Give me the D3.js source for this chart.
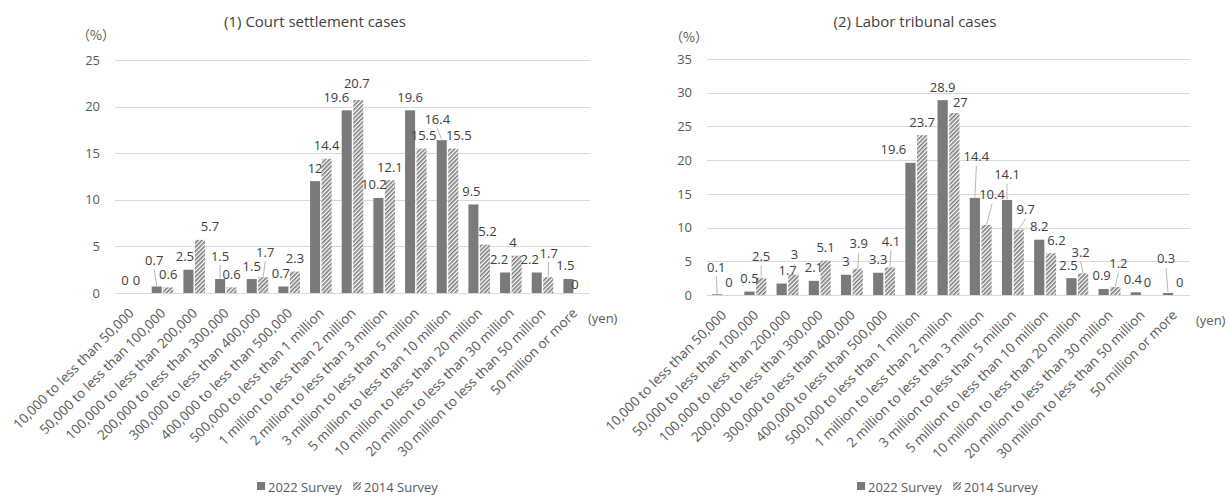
<!DOCTYPE html>
<html>
<head>
<meta charset="utf-8">
<script src="https://cdn.jsdelivr.net/npm/d3@7"></script>
<style>
  body { margin: 0; background: #fff; }
  svg { display: block; }
  text { font-family: 'Open Sans', 'Noto Sans', sans-serif; }
</style>
</head>
<body>
<svg id="chart" width="1229" height="500"></svg>
<script>
// ---- data ----
const categories = [
  "10,000 to less than 50,000",
  "50,000 to less than 100,000",
  "100,000 to less than 200,000",
  "200,000 to less than 300,000",
  "300,000 to less than 400,000",
  "400,000 to less than 500,000",
  "500,000 to less than 1 million",
  "1 million to less than 2 million",
  "2 million to less than 3 million",
  "3 million to less than 5 million",
  "5 million to less than 10 million",
  "10 million to less than 20 million",
  "20 million to less than 30 million",
  "30 million to less than 50 million",
  "50 million or more"
];
const seriesNames = ["2022 Survey", "2014 Survey"];

const court2022 = [0, 0.7, 2.5, 1.5, 1.5, 0.7, 12, 19.6, 10.2, 19.6, 16.4, 9.5, 2.2, 2.2, 1.5];
const court2014 = [0, 0.6, 5.7, 0.6, 1.7, 2.3, 14.4, 20.7, 12.1, 15.5, 15.5, 5.2, 4, 1.7, 0];
const courtTicks = [0, 5, 10, 15, 20, 25];

const labor2022 = [0.1, 0.5, 1.7, 2.1, 3, 3.3, 19.6, 28.9, 14.4, 14.1, 8.2, 2.5, 0.9, 0.4, 0.3];
const labor2014 = [0, 2.5, 3, 5.1, 3.9, 4.1, 23.7, 27, 10.4, 9.7, 6.2, 3.2, 1.2, 0, 0];
const laborTicks = [0, 5, 10, 15, 20, 25, 30, 35];

// ---- layout ----
// hand-placed value labels: [dx, dy] relative to the default spot above the bar
const courtLabelShift = [
  {1: [-2.5, -13], 2: [-3.5, 0], 3: [0, -10], 5: [-2.5, 0], 7: [-10.5, 0], 8: [-4.5, 0],
   10: [-4.5, -8], 11: [-2, 0], 12: [-6, 0], 13: [-7, 0], 14: [-3, -1]},
  {2: [10, 0], 4: [2, -12], 7: [-1.5, -4], 9: [2, 0], 10: [5.5, 0], 11: [2.5, 0],
   12: [-3.5, 0], 13: [0.5, -11], 14: [-5, 4]}
];
const laborLabelShift = [
  {0: [-1, -14], 2: [6, 0], 6: [-17, 0], 8: [1.5, -28], 9: [0, -12], 11: [-3, 0],
   12: [-2, 0], 13: [-3, 0], 14: [-2, -21]},
  {1: [0, -9], 2: [1, -7], 4: [1, -12], 5: [1, -13], 7: [6, 3], 8: [5.5, -17],
   9: [7, -7], 10: [5.5, 0], 11: [-2.5, -8], 12: [3, -10.5]}
];

const panels = [
  {title: "(1) Court settlement cases", titleX: 315, left: 115, right: 590, zero: 293, top: 60,
   ticks: courtTicks, s2022: court2022, s2014: court2014, shift: courtLabelShift,
   pctX: 77, pctY: 39.5, yenX: 588, legendX: 257},
  {title: "(2) Labor tribunal cases", titleX: 915, left: 707, right: 1190, zero: 295, top: 59,
   ticks: laborTicks, s2022: labor2022, s2014: labor2014, shift: laborLabelShift,
   pctX: 670, pctY: 41.5, yenX: 1196, legendX: 857}
];

const BAR_DARK = "#7a7a7a";
const GRID = "#d9d9d9";
const TEXT = "#404040";
const AXIS_TEXT = "#595959";

const svg = d3.select("#chart");

// diagonal hatch for the 2014 series
const defs = svg.append("defs");
const pat = defs.append("pattern")
  .attr("id", "hatch")
  .attr("patternUnits", "userSpaceOnUse")
  .attr("width", 3).attr("height", 3)
  .attr("patternTransform", "rotate(45)");
pat.append("rect").attr("width", 3).attr("height", 3).attr("fill", "#ffffff");
pat.append("rect").attr("width", 1.6).attr("height", 3).attr("fill", "#7a7a7a");

const fills = [BAR_DARK, "url(#hatch)"];

panels.forEach(p => {
  const g = svg.append("g");
  const maxTick = p.ticks[p.ticks.length - 1];

  const y = d3.scaleLinear().domain([0, maxTick]).range([p.zero, p.top]);
  const x0 = d3.scaleBand().domain(categories).range([p.left, p.right])
    .paddingInner(0.32).paddingOuter(0.16);
  const x1 = d3.scaleBand().domain(seriesNames).range([0, x0.bandwidth()]).paddingInner(0.13);

  // title
  g.append("text").attr("x", p.titleX).attr("y", 26.5)
    .attr("text-anchor", "middle").attr("font-size", 15).attr("fill", TEXT)
    .text(p.title);

  // unit label
  g.append("text").attr("x", p.pctX).attr("y", p.pctY)
    .attr("font-size", 13).attr("fill", AXIS_TEXT)
    .style("font-family", "'Noto Sans CJK JP', sans-serif")
    .text("（%）");

  // gridlines + value axis
  const yAxis = d3.axisLeft(y).tickValues(p.ticks).tickSize(-(p.right - p.left)).tickPadding(15)
    .tickFormat(d3.format("d"));
  const ag = g.append("g").attr("transform", `translate(${p.left},0)`).call(yAxis);
  ag.select(".domain").remove();
  ag.selectAll(".tick line").attr("stroke", GRID).attr("stroke-width", 1)
    .attr("shape-rendering", "crispEdges");
  ag.selectAll(".tick text").attr("font-size", 13).attr("fill", AXIS_TEXT)
    .style("font-family", "'Open Sans', sans-serif");

  // bars
  const series = [p.s2022, p.s2014];
  series.forEach((vals, si) => {
    g.append("g").selectAll("rect").data(vals).join("rect")
      .attr("x", (d, i) => x0(categories[i]) + x1(seriesNames[si]))
      .attr("y", d => y(d))
      .attr("width", x1.bandwidth())
      .attr("height", d => y(0) - y(d))
      .attr("fill", fills[si]);
  });

  // value labels with leader lines where a label was lifted away from its bar
  series.forEach((vals, si) => {
    const lg = g.append("g");
    vals.forEach((v, i) => {
      const bx = x0(categories[i]) + x1(seriesNames[si]) + x1.bandwidth() / 2;
      const top = y(v);
      const [dx, dy] = p.shift[si][i] || [0, 0];
      const cx = bx + dx;
      const cy = top - 13 + dy;
      if (dy <= -5) {
        lg.append("line")
          .attr("x1", cx).attr("y1", cy + 9)
          .attr("x2", bx).attr("y2", top - 0.5)
          .attr("stroke", "#a6a6a6").attr("stroke-width", 0.8);
      }
      lg.append("text").attr("x", cx).attr("y", cy + 4.5)
        .attr("text-anchor", "middle").attr("font-size", 13).attr("fill", TEXT)
        .text(String(v));
    });
  });

  // category labels, rotated
  g.append("g").selectAll("text").data(categories).join("text")
    .attr("transform", d => `translate(${x0(d) + x0.bandwidth() / 2 + 4},${p.zero + 21}) rotate(-45)`)
    .attr("text-anchor", "end").attr("font-size", 13.5).attr("fill", AXIS_TEXT)
    .text(d => d);

  g.append("text").attr("x", p.yenX).attr("y", p.zero + 30)
    .attr("font-size", 13).attr("fill", AXIS_TEXT).text("(yen)");

  // legend
  const lgd = g.append("g").attr("transform", `translate(${p.legendX},0)`);
  const legendItems = [{x: 0, fill: fills[0], name: seriesNames[0]},
                       {x: 96, fill: fills[1], name: seriesNames[1]}];
  legendItems.forEach(it => {
    lgd.append("rect").attr("x", it.x).attr("y", 482).attr("width", 8).attr("height", 8)
      .attr("fill", it.fill);
    lgd.append("text").attr("x", it.x + 11).attr("y", 491.5)
      .attr("font-size", 13).attr("fill", AXIS_TEXT).text(it.name);
  });
});
</script>
</body>
</html>
